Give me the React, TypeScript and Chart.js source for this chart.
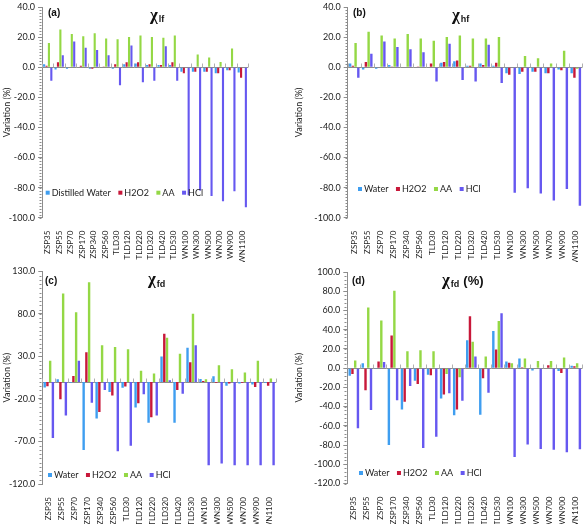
import React, { useEffect, useRef } from 'react';
import { Chart, registerables } from 'chart.js';
Chart.register(...registerables);

const categories = ['ZSP35', 'ZSP55', 'ZSP70', 'ZSP170', 'ZSP340', 'ZSP560', 'TLD30', 'TLD120', 'TLD220', 'TLD320', 'TLD420', 'TLD530', 'WN100', 'WN300', 'WN500', 'WN700', 'WN900', 'WN1100'];

const seriesNamesA = ['Distilled Water', 'H2O2', 'AA', 'HCl'];
const seriesNames = ['Water', 'H2O2', 'AA', 'HCl'];

// (a) chi_lf
const lfWater = [2, -1.5, -1, 0.3, -1, 0.3, -1, 2, 2.5, 1.5, 1.5, 1.5, -3, -3, -3, -4, -2, -3.5];
const lfH2O2 = [1, 3.3, 0, 1, -1, 0.5, 2, 3.3, 3.3, 2, 1.5, 3.3, -4, -3, -3, -4, -2, -7];
const lfAA = [16, 25, 22, 20.5, 22.5, 19, 18.5, 20, 21, 20, 19.5, 21, 0, 8.5, 6.5, 3.5, 12.5, 0];
const lfHCl = [-9, 8, 17, 13, 11.5, 8, -12, 14.5, -10, -9, 14, -9, -85, -82, -85.5, -89, -82.5, -93];

// (b) chi_hf
const hfWater = [2.5, -1.5, -1, 1.5, 0, 0, 0, 3, 4, 1, 2.5, 1, -4, -4.5, -3, -4, -1.5, -4];
const hfH2O2 = [1, 3.5, 0, 0.5, 0, 0.5, 2.5, 3.5, 4.5, 1, 1.5, 3, -5, -3, -3, -4, -2, -7];
const hfAA = [16, 23.5, 21, 19, 22, 19, 17.5, 20, 21, 19, 19, 20, 0, 7.5, 6, 2.5, 11, -1];
const hfHCl = [-7, 9, 17, 13.5, 12, 10, -9.5, 15.5, -8.5, -9.5, 15, -10.5, -83.5, -80.5, -84, -88.5, -81, -92];

// (c) chi_fd
const fdWater = [-6.5, 3, -1, -80, -43, -12, -7, -30, -48, 30, -48, 40, 3.5, 6.5, -4.5, -2, -3, -1];
const fdH2O2 = [-5, -20.5, 7, 35, -35.5, -16, -5.5, -25, -41.5, 56.5, -9.5, 23, 1, -1, -2, -1, -6, -4.5];
const fdAA = [25, 104, 82, 117, 43, 41, 38.5, 13, 10, 52, 33, 80, 3, 19.5, 15, 11, 25, 4];
const fdHCl = [-66, -39.5, 25, -24.5, -9.5, -81.5, -75, -14.5, -39.5, 2, -14, 43, -98, -96, -98, -98, -98, -98];

// (d) chi_fd (%)
const fdpWater = [-8, 5, -1, -80, -43, -13, -7, -31.5, -49, 29, -48.5, 38.5, 7, 10, -2.5, 0, -3, 2.5];
const fdpH2O2 = [-6, -23, 7, 34, -35, -16.5, -7.5, -27.5, -43, 54, -10.5, 19.5, 5.5, 1, 0.5, 3, -5, 2];
const fdpAA = [8, 63, 49.5, 80.5, 17.5, 18.5, 17.5, -6, -9.5, 27.5, 12, 49, 5, 10, 7.5, 7.5, 11, 5];
const fdpHCl = [-62.5, -43.5, 6.5, -33.5, -18.5, -83, -71.5, -26, -34, 12, -25.5, 57, -92.5, -79.5, -84, -85, -87.5, -84.5];

const COLORS = ['#3f9ef0', '#c8183a', '#94d845', '#6658f0'];
const FONT = 'Lato, "Liberation Sans", sans-serif';

type PanelProps = {
  left: number; top: number; width: number; height: number;
  plot: { l: number; r: number; t: number; b: number };
  yMin: number; yMax: number; yStep: number; minor: number;
  series: number[][]; names: string[];
  tMain: string; tSub: string; tSuffix: string; tX: number; tY: number;
  letter: string; lX: number; lY: number;
  legX: number; legY: number;
};

function Panel(p: PanelProps) {
  const ref = useRef<HTMLCanvasElement>(null);
  useEffect(() => {
    const decor = {
      id: 'decor',
      beforeDatasetsDraw(chart: any) {
        const { ctx, chartArea } = chart;
        const x = chart.scales.x;
        const y = chart.scales.y;
        const y0 = Math.round(y.getPixelForValue(0)) + 0.5;
        ctx.save();
        ctx.strokeStyle = '#8c8c8c';
        ctx.lineWidth = 1;
        ctx.beginPath();
        ctx.moveTo(chartArea.left, y0);
        ctx.lineTo(chartArea.right, y0);
        ctx.stroke();
        ctx.strokeStyle = '#b0b0b0';
        ctx.beginPath();
        const n = x.ticks.length;
        const w = (chartArea.right - chartArea.left) / n;
        for (let i = 0; i <= n; i++) {
          const px = Math.round(chartArea.left + i * w) + 0.5;
          ctx.moveTo(px, y0);
          ctx.lineTo(px, y0 - 4);
        }
        ctx.stroke();
        ctx.strokeStyle = '#8c8c8c';
        ctx.beginPath();
        const lx = Math.round(chartArea.left) - 0.5;
        for (let v = p.yMin; v <= p.yMax + 1e-6; v += p.minor) {
          const py = Math.round(y.getPixelForValue(v)) + 0.5;
          ctx.moveTo(lx, py);
          ctx.lineTo(lx - 2, py);
        }
        ctx.stroke();
        ctx.restore();
      },
      afterDraw(chart: any) {
        const { ctx } = chart;
        ctx.save();
        ctx.fillStyle = '#111';
        ctx.textBaseline = 'alphabetic';
        ctx.textAlign = 'left';
        // title
        ctx.font = 'bold 17px "Liberation Serif", serif';
        ctx.fillText(p.tMain, p.tX, p.tY);
        const w1 = ctx.measureText(p.tMain).width;
        ctx.font = 'bold 9px "Liberation Sans", sans-serif';
        ctx.fillText(p.tSub, p.tX + w1 + 1, p.tY + 2.5);
        const w2 = ctx.measureText(p.tSub).width;
        if (p.tSuffix) {
          ctx.font = 'bold 13px "Liberation Sans", sans-serif';
          ctx.fillText(p.tSuffix, p.tX + w1 + 1 + w2 + 4, p.tY);
        }
        // panel letter
        ctx.font = 'bold 10px "Liberation Sans", sans-serif';
        ctx.fillText(p.letter, p.lX, p.lY);
        // legend
        ctx.font = '9px ' + FONT;
        ctx.textBaseline = 'middle';
        let lx = p.legX;
        chart.data.datasets.forEach((ds: any) => {
          ctx.fillStyle = ds.backgroundColor;
          ctx.fillRect(lx, p.legY - 2, 4, 4);
          ctx.fillStyle = '#222';
          ctx.fillText(ds.label, lx + 6, p.legY);
          lx += 6 + ctx.measureText(ds.label).width + 7.5;
        });
        ctx.restore();
      },
    };
    const chart = new Chart(ref.current as HTMLCanvasElement, {
      type: 'bar',
      data: {
        labels: categories,
        datasets: p.series.map((d, i) => ({
          label: p.names[i],
          data: d,
          backgroundColor: COLORS[i],
          borderWidth: 0,
          categoryPercentage: 0.84,
          barPercentage: 0.88,
        })),
      },
      options: {
        animation: false,
        responsive: false,
        maintainAspectRatio: false,
        layout: { padding: { left: 0, top: p.plot.t, right: p.width - p.plot.r, bottom: 0 } },
        plugins: { legend: { display: false }, tooltip: { enabled: false }, title: { display: false } },
        scales: {
          x: {
            grid: { display: false },
            border: { display: false },
            ticks: { autoSkip: false, maxRotation: 90, minRotation: 90, padding: 5, color: '#222', font: { family: FONT, size: 8 } },
            afterFit: (s: any) => { s.height = p.height - p.plot.b; s.paddingLeft = 0; s.paddingRight = 0; },
          },
          y: {
            min: p.yMin,
            max: p.yMax,
            ticks: { stepSize: p.yStep, color: '#222', padding: 3, font: { family: FONT, size: 9 }, callback: (v: any) => Number(v).toFixed(1) },
            grid: { drawOnChartArea: false, drawTicks: true, tickLength: 4, tickColor: '#8c8c8c', color: '#8c8c8c' },
            border: { display: true, color: '#8c8c8c' },
            title: { display: true, text: 'Variation (%)', color: '#222', font: { family: FONT, size: 9 }, padding: { top: 2, bottom: 0 } },
            afterFit: (s: any) => { s.width = p.plot.l; s.paddingTop = 0; s.paddingBottom = 0; },
          },
        },
      },
      plugins: [decor],
    } as any);
    return () => chart.destroy();
  }, []);
  return (
    <div style={{ position: 'absolute', left: p.left, top: p.top, width: p.width, height: p.height }}>
      <canvas ref={ref} width={p.width} height={p.height} style={{ width: p.width, height: p.height, display: 'block' }} />
    </div>
  );
}

export default function App() {
  return (
    <div style={{ position: 'absolute', left: 0, top: 0, width: 585, height: 524, background: '#fff' }}>
      <Panel left={0} top={0} width={292} height={262} plot={{ l: 42, r: 248, t: 7, b: 217.7 }}
        yMin={-100} yMax={40} yStep={20} minor={2}
        series={[lfWater, lfH2O2, lfAA, lfHCl]} names={seriesNamesA}
        tMain="χ" tSub="lf" tSuffix="" tX={150} tY={19.5} letter="(a)" lX={48} lY={15.5} legX={45.7} legY={192.7} />
      <Panel left={292} top={0} width={293} height={262} plot={{ l: 55.7, r: 290.3, t: 7, b: 217.7 }}
        yMin={-100} yMax={40} yStep={20} minor={2}
        series={[hfWater, hfH2O2, hfAA, hfHCl]} names={seriesNames}
        tMain="χ" tSub="hf" tSuffix="" tX={160} tY={19.5} letter="(b)" lX={61} lY={15.5} legX={66} legY={189} />
      <Panel left={0} top={262} width={292} height={262} plot={{ l: 42.3, r: 276, t: 9.3, b: 222 }}
        yMin={-120} yMax={130} yStep={50} minor={5}
        series={[fdWater, fdH2O2, fdAA, fdHCl]} names={seriesNames}
        tMain="χ" tSub="fd" tSuffix="" tX={148} tY={22} letter="(c)" lX={45} lY={22} legX={48} legY={213} />
      <Panel left={292} top={262} width={293} height={262} plot={{ l: 55.3, r: 290.3, t: 10, b: 221.5 }}
        yMin={-120} yMax={100} yStep={20} minor={4}
        series={[fdpWater, fdpH2O2, fdpAA, fdpHCl]} names={seriesNames}
        tMain="χ" tSub="fd" tSuffix="(%)" tX={150} tY={22.5} letter="(d)" lX={60} lY={22} legX={67} legY={211} />
    </div>
  );
}
